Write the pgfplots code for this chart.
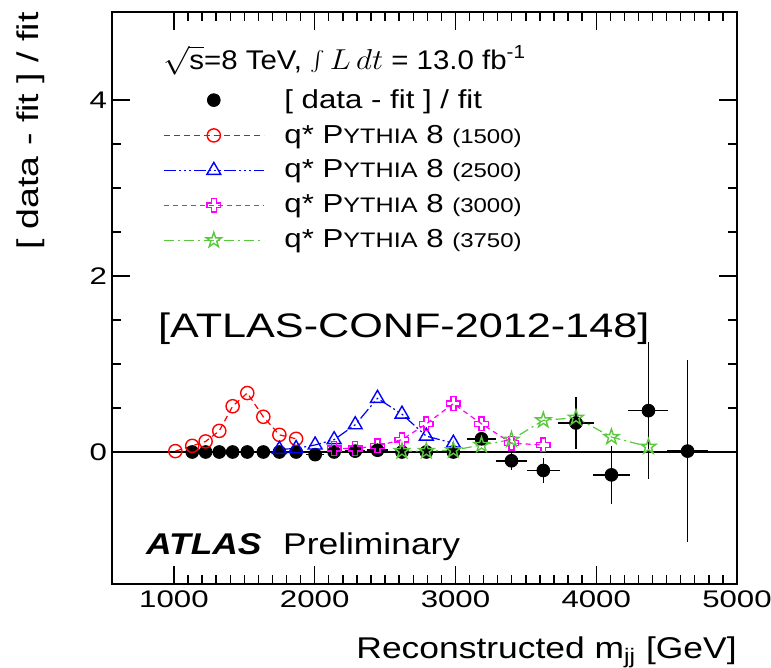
\documentclass[border=0pt]{standalone}
\usepackage{fontspec}
\setmainfont{Liberation Sans}
\usepackage{graphicx}
\usepackage{pgfplots}
\pgfplotsset{compat=1.18}
\usetikzlibrary{plotmarks}
\definecolor{rootgreen}{RGB}{90,200,60}
\definecolor{rootred}{RGB}{255,0,0}
\definecolor{rootblue}{RGB}{0,0,255}
\definecolor{rootmag}{RGB}{255,0,255}

\pgfdeclareplotmark{ocross}{%
  \pgfmathsetlengthmacro\ma{\pgfplotmarksize}%
  \pgfmathsetlengthmacro\mb{0.36*\pgfplotmarksize}%
  \pgfpathmoveto{\pgfpoint{-\mb}{\ma}}%
  \pgfpathlineto{\pgfpoint{\mb}{\ma}}%
  \pgfpathlineto{\pgfpoint{\mb}{\mb}}%
  \pgfpathlineto{\pgfpoint{\ma}{\mb}}%
  \pgfpathlineto{\pgfpoint{\ma}{-\mb}}%
  \pgfpathlineto{\pgfpoint{\mb}{-\mb}}%
  \pgfpathlineto{\pgfpoint{\mb}{-\ma}}%
  \pgfpathlineto{\pgfpoint{-\mb}{-\ma}}%
  \pgfpathlineto{\pgfpoint{-\mb}{-\mb}}%
  \pgfpathlineto{\pgfpoint{-\ma}{-\mb}}%
  \pgfpathlineto{\pgfpoint{-\ma}{\mb}}%
  \pgfpathlineto{\pgfpoint{-\mb}{\mb}}%
  \pgfpathclose
  \pgfusepathqstroke
}
\pgfdeclareplotmark{ostar}{%
  \pgfpathmoveto{\pgfpointpolar{90}{\pgfplotmarksize}}%
  \pgfpathlineto{\pgfpointpolar{126}{0.382\pgfplotmarksize}}%
  \pgfpathlineto{\pgfpointpolar{162}{\pgfplotmarksize}}%
  \pgfpathlineto{\pgfpointpolar{198}{0.382\pgfplotmarksize}}%
  \pgfpathlineto{\pgfpointpolar{234}{\pgfplotmarksize}}%
  \pgfpathlineto{\pgfpointpolar{270}{0.382\pgfplotmarksize}}%
  \pgfpathlineto{\pgfpointpolar{306}{\pgfplotmarksize}}%
  \pgfpathlineto{\pgfpointpolar{342}{0.382\pgfplotmarksize}}%
  \pgfpathlineto{\pgfpointpolar{18}{\pgfplotmarksize}}%
  \pgfpathlineto{\pgfpointpolar{54}{0.382\pgfplotmarksize}}%
  \pgfpathclose
  \pgfusepathqstroke
}

\pgfplotstableread{
x y ex ey
1130 0.00 35 0.01
1225 0.00 38 0.01
1322 0.00 41 0.01
1417 0.00 44 0.01
1521 0.00 47 0.01
1635 0.00 50 0.01
1749 0.00 54 0.01
1868 0.00 58 0.02
2003 -0.03 62 0.02
2138 0.00 66 0.02
2288 0.01 71 0.02
2446 0.02 76 0.03
2620 0.00 81 0.03
2793 0.00 87 0.04
2985 0.00 93 0.05
3185 0.15 100 0.06
3398 -0.10 110 0.11
3624 -0.21 119 0.14
3856 0.33 128 0.30
4108 -0.26 130 0.33
4371 0.47 142 0.78
4649 0.01 148 1.03
}\datatab

\newcommand{\tl}[1]{\scalebox{1.3}[1]{#1}}
\newcommand{\lgd}[1]{\scalebox{1.2}[1]{#1}}
\newcommand{\pyt}[1]{\lgd{q* P{\fontsize{10.5}{11}\selectfont YTHIA} 8 {\fontsize{10}{11}\selectfont (#1)}}}

\begin{document}
\begin{tikzpicture}
\useasboundingbox (-56pt,-42pt) rectangle (329.5pt,292pt);
\begin{axis}[
  scale only axis, width=312.5pt, height=286pt,
  xmin=560, xmax=5000, ymin=-1.5, ymax=5,
  xtick={1000,2000,3000,4000,5000},
  xticklabels={\tl{1000},\tl{2000},\tl{3000},\tl{4000},\tl{5000}},
  minor x tick num=9,
  ytick={0,2,4}, yticklabels={\tl{0},\tl{2},\tl{4}},
  minor y tick num=3,
  tick pos=both, tick align=inside,
  major tick length=9pt, minor tick length=4.5pt,
  tick style={black, line width=0.7pt},
  axis line style={black, line width=0.8pt},
  tick label style={font=\fontsize{12}{14}\selectfont},
  yticklabel style={xshift=1pt},
  xlabel={\scalebox{1.18}[1]{Reconstructed m\textsubscript{jj} [GeV]}},
  every axis x label/.style={at={(rel axis cs:1,-0.1294)}, anchor=base east, inner sep=0pt, font=\fontsize{15}{17}\selectfont},
  ylabel={\scalebox{1.25}[1]{[ data - fit ] / fit}},
  every axis y label/.style={at={(rel axis cs:-0.1184,1)}, anchor=base east, inner sep=0pt, rotate=90, font=\fontsize{15}{17}\selectfont},
  legend cell align=left,
  legend image code/.code={\draw[mark repeat=2,mark phase=2,#1] plot coordinates {(0pt,0pt) (25pt,0pt) (50pt,0pt)};},
  legend style={draw=none, fill=none, at={(axis cs:921,4.15)}, anchor=north west,
    font=\fontsize{13}{15}\selectfont, inner sep=0pt, row sep=4.9pt,
    nodes={inner sep=1pt},
    /tikz/every odd column/.append style={column sep=9pt}},
]
\addplot[black, line width=0.6pt, forget plot] coordinates {(560,0) (5000,0)};
\addplot[black, only marks, mark=*, mark size=3.2pt,
  error bars/.cd, x dir=both, x explicit, y dir=both, y explicit,
  error mark=none, error bar style={line width=0.8pt, black}]
  table[x=x, y=y, x error=ex, y error=ey] {\datatab};
\addlegendentry{\lgd{[ data - fit ] / fit}}
\addplot[rootred, line width=0.6pt, dash pattern=on 3pt off 2pt, mark=o, mark size=3.3pt,
  mark options={solid, line width=0.7pt}] coordinates {
  (1010,0.01) (1130,0.07) (1225,0.12) (1322,0.24) (1417,0.52) (1521,0.67)
  (1635,0.40) (1749,0.195) (1868,0.15)};
\addlegendentry{\pyt{1500}}
\addplot[rootblue, line width=0.6pt, dash pattern=on 6pt off 1.5pt on 1pt off 1.5pt on 1pt off 1.5pt on 1pt off 1.5pt,
  mark=triangle, mark size=4pt, mark options={solid, line width=0.7pt}] coordinates {
  (1749,0.03) (1868,0.04) (2003,0.08) (2138,0.14) (2288,0.31) (2446,0.61)
  (2620,0.43) (2793,0.18) (2985,0.10)};
\addlegendentry{\pyt{2500}}
\addplot[rootmag, line width=0.6pt, dash pattern=on 2.5pt off 2pt,
  mark=ocross, mark size=3.4pt, mark options={solid, line width=0.7pt}] coordinates {
  (2138,0.04) (2288,0.04) (2446,0.07) (2620,0.14) (2793,0.32) (2985,0.55)
  (3185,0.32) (3398,0.10) (3624,0.08)};
\addlegendentry{\pyt{3000}}
\addplot[rootgreen, line width=0.6pt, dash pattern=on 5pt off 2pt on 1pt off 2pt,
  mark=ostar, mark size=4pt, mark options={solid, line width=0.7pt}] coordinates {
  (2620,0.01) (2793,0.01) (2985,0.02) (3185,0.08) (3398,0.14) (3624,0.36)
  (3856,0.39) (4108,0.17) (4371,0.06)};
\addlegendentry{\pyt{3750}}
\node[anchor=base west, inner sep=0pt, font=\fontsize{13.5}{15}\selectfont] at (axis cs:921,4.35)
  {\scalebox{1.09}[1]{$\sqrt{\mbox{s}}$=8 TeV, $\int L\,dt$ = 13.0 fb\textsuperscript{-1}}};
\node[anchor=base west, inner sep=0pt, font=\fontsize{17}{19}\selectfont] at (axis cs:885,1.30)
  {\scalebox{1.27}[1]{[ATLAS-CONF-2012-148]}};
\node[anchor=base west, inner sep=0pt, font=\fontsize{15}{18}\selectfont] at (axis cs:800,-1.17)
  {\scalebox{1.18}[1]{\textbf{\textit{ATLAS}}\hspace{5pt} Preliminary}};
\end{axis}
\end{tikzpicture}
\end{document}
